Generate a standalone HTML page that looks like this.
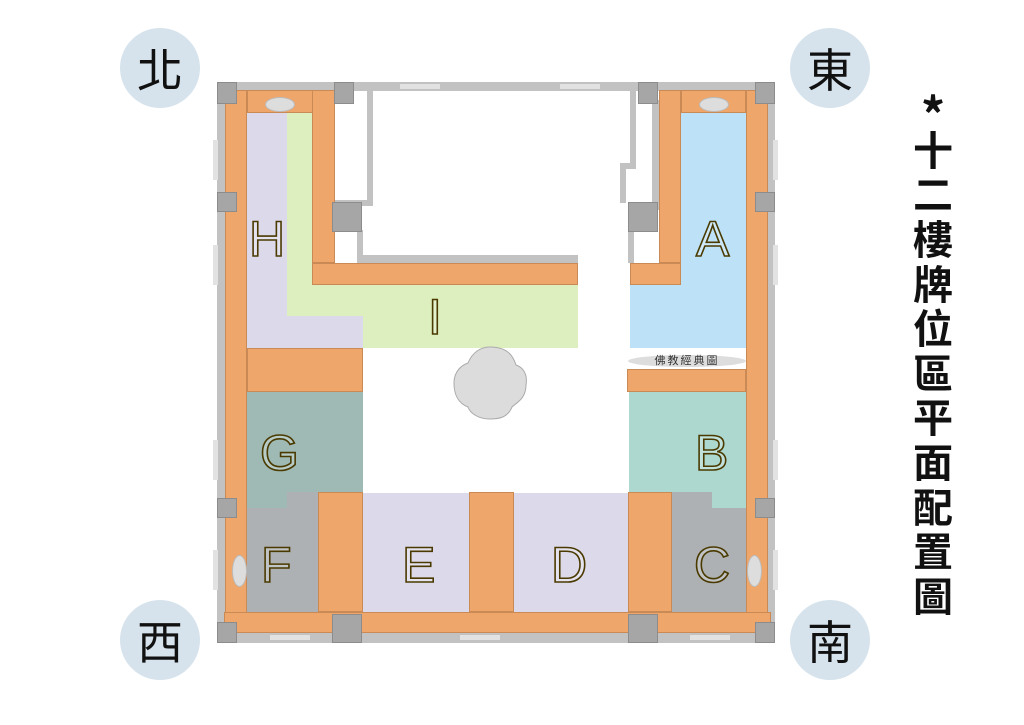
<!DOCTYPE html>
<html><head><meta charset="utf-8"><style>
body{margin:0;width:1024px;height:725px;background:#fff;position:relative;overflow:hidden;font-family:"Liberation Sans","Noto Sans CJK TC",sans-serif}
div{position:absolute;box-sizing:border-box}
.o{background:#eea66a;border:1px solid #c98a55}
.g{background:#c2c2c2}
.sq{background:#a6a6a6;border:1px solid #8c8c8c}
.lt{background:#e2e2e2}
.L{font-size:50px;color:rgba(255,255,255,0.25);-webkit-text-stroke:1.6px #4a3a00;font-family:"Liberation Sans",sans-serif;line-height:1}
.c{width:80px;height:80px;border-radius:50%;background:#d6e3ec;font-size:46px;text-align:center;line-height:80px;color:#111;font-family:"Noto Sans CJK TC",sans-serif}
.v{left:908px;width:50px;text-align:center;font-size:40px;font-weight:bold;line-height:1;font-family:"Noto Sans CJK TC",sans-serif;color:#111}
</style></head><body>
<!-- outer walls -->
<div class="g" style="left:217px;top:82px;width:558px;height:9px"></div>
<div class="g" style="left:217px;top:82px;width:8px;height:561px"></div>
<div class="g" style="left:767px;top:82px;width:8px;height:561px"></div>
<div class="g" style="left:217px;top:632px;width:558px;height:11px"></div>
<div class="lt" style="left:400px;top:84px;width:40px;height:5px"></div>
<div class="lt" style="left:560px;top:84px;width:40px;height:5px"></div>
<div class="lt" style="left:270px;top:635px;width:40px;height:5px"></div>
<div class="lt" style="left:460px;top:635px;width:40px;height:5px"></div>
<div class="lt" style="left:690px;top:635px;width:40px;height:5px"></div>
<div class="lt" style="left:213px;top:140px;width:5px;height:40px"></div>
<div class="lt" style="left:213px;top:245px;width:5px;height:40px"></div>
<div class="lt" style="left:213px;top:440px;width:5px;height:40px"></div>
<div class="lt" style="left:213px;top:550px;width:5px;height:40px"></div>
<div class="lt" style="left:773px;top:140px;width:5px;height:40px"></div>
<div class="lt" style="left:773px;top:245px;width:5px;height:40px"></div>
<div class="lt" style="left:773px;top:440px;width:5px;height:40px"></div>
<div class="lt" style="left:773px;top:550px;width:5px;height:40px"></div>
<!-- inner thin walls -->
<div class="g" style="left:367px;top:88px;width:6px;height:118px"></div>
<div class="g" style="left:335px;top:200px;width:38px;height:6px"></div>
<div class="g" style="left:357px;top:230px;width:6px;height:33px"></div>
<div class="g" style="left:357px;top:255px;width:221px;height:8px"></div>
<div class="g" style="left:630px;top:88px;width:6px;height:80px"></div>
<div class="g" style="left:620px;top:163px;width:16px;height:6px"></div>
<div class="g" style="left:620px;top:163px;width:6px;height:40px"></div>
<div class="g" style="left:628px;top:230px;width:6px;height:33px"></div>
<div class="g" style="left:652px;top:100px;width:7px;height:110px"></div>
<!-- zones -->
<div style="left:287px;top:113px;width:25px;height:235px;background:#ddeebf"></div>
<div style="left:287px;top:285px;width:291px;height:63px;background:#ddeebf"></div>
<div style="left:247px;top:113px;width:40px;height:235px;background:#dcdaea"></div>
<div style="left:247px;top:316px;width:116px;height:32px;background:#dcdaea"></div>
<div style="left:681px;top:113px;width:65px;height:235px;background:#bde1f6"></div>
<div style="left:630px;top:285px;width:51px;height:63px;background:#bde1f6"></div>
<div style="left:247px;top:392px;width:116px;height:116px;background:#9fbab4"></div>
<div style="left:247px;top:508px;width:72px;height:104px;background:#adb1b3"></div>
<div style="left:287px;top:492px;width:32px;height:20px;background:#adb1b3"></div>
<div style="left:629px;top:392px;width:117px;height:116px;background:#acd8d0"></div>
<div style="left:672px;top:492px;width:74px;height:120px;background:#adb1b3"></div>
<div style="left:712px;top:492px;width:34px;height:16px;background:#acd8d0"></div>
<div style="left:363px;top:493px;width:107px;height:119px;background:#dcdaea"></div>
<div style="left:514px;top:493px;width:115px;height:119px;background:#dcdaea"></div>
<!-- orange -->
<div class="o" style="left:225px;top:90px;width:22px;height:542px"></div>
<div class="o" style="left:247px;top:90px;width:66px;height:23px"></div>
<div class="o" style="left:312px;top:90px;width:23px;height:173px"></div>
<div class="o" style="left:312px;top:263px;width:266px;height:22px"></div>
<div class="o" style="left:247px;top:348px;width:116px;height:44px"></div>
<div class="o" style="left:746px;top:90px;width:22px;height:542px"></div>
<div class="o" style="left:681px;top:90px;width:65px;height:23px"></div>
<div class="o" style="left:659px;top:90px;width:22px;height:173px"></div>
<div class="o" style="left:630px;top:263px;width:51px;height:22px"></div>
<div class="o" style="left:627px;top:369px;width:119px;height:23px"></div>
<div class="o" style="left:318px;top:492px;width:45px;height:120px"></div>
<div class="o" style="left:469px;top:492px;width:45px;height:120px"></div>
<div class="o" style="left:628px;top:492px;width:44px;height:120px"></div>
<div class="o" style="left:224px;top:612px;width:547px;height:21px"></div>
<!-- ovals -->
<div style="left:265px;top:97px;width:30px;height:15px;border-radius:50%;background:#ddd;border:1px solid #bbb"></div>
<div style="left:699px;top:97px;width:30px;height:15px;border-radius:50%;background:#ddd;border:1px solid #bbb"></div>
<div style="left:232px;top:555px;width:15px;height:32px;border-radius:50%;background:#ddd;border:1px solid #bbb"></div>
<div style="left:747px;top:555px;width:15px;height:32px;border-radius:50%;background:#ddd;border:1px solid #bbb"></div>
<div style="left:628px;top:355px;width:118px;height:12px;border-radius:50%;background:#ddd"></div>
<div style="left:628px;top:352px;width:118px;height:16px;font-size:11px;line-height:16px;text-align:center;color:#333;letter-spacing:2px;font-family:'Noto Sans CJK TC',sans-serif">佛教經典圖</div>
<!-- squares -->
<div class="sq" style="left:217px;top:82px;width:20px;height:22px"></div>
<div class="sq" style="left:334px;top:82px;width:20px;height:22px"></div>
<div class="sq" style="left:638px;top:82px;width:20px;height:22px"></div>
<div class="sq" style="left:755px;top:82px;width:20px;height:22px"></div>
<div class="sq" style="left:332px;top:202px;width:30px;height:30px"></div>
<div class="sq" style="left:628px;top:202px;width:30px;height:30px"></div>
<div class="sq" style="left:217px;top:192px;width:20px;height:20px"></div>
<div class="sq" style="left:755px;top:192px;width:20px;height:20px"></div>
<div class="sq" style="left:217px;top:498px;width:20px;height:20px"></div>
<div class="sq" style="left:755px;top:498px;width:20px;height:20px"></div>
<div class="sq" style="left:332px;top:614px;width:30px;height:29px"></div>
<div class="sq" style="left:628px;top:614px;width:30px;height:29px"></div>
<div class="sq" style="left:217px;top:622px;width:20px;height:21px"></div>
<div class="sq" style="left:755px;top:622px;width:20px;height:21px"></div>
<!-- center flower -->
<svg style="position:absolute;left:450px;top:343px" width="80" height="80"><path d="M40 4 C60 4 64 16 66 22 C72 24 78 30 76 42 C76 56 66 60 62 64 C58 74 50 76 40 76 C28 76 20 70 18 64 C8 60 4 52 4 40 C4 28 12 22 18 20 C22 10 30 4 40 4Z" fill="#dcdcdc" stroke="#aaa"/></svg>
<!-- letters -->
<div class="L" style="left:249px;top:214px">H</div>
<div class="L" style="left:428px;top:292px">I</div>
<div class="L" style="left:696px;top:214px">A</div>
<div class="L" style="left:695px;top:428px">B</div>
<div class="L" style="left:694px;top:540px">C</div>
<div class="L" style="left:551px;top:540px">D</div>
<div class="L" style="left:402px;top:540px">E</div>
<div class="L" style="left:261px;top:540px">F</div>
<div class="L" style="left:260px;top:428px">G</div>
<!-- compass -->
<div class="c" style="left:120px;top:28px">北</div>
<div class="c" style="left:790px;top:28px">東</div>
<div class="c" style="left:120px;top:600px">西</div>
<div class="c" style="left:790px;top:600px">南</div>
<!-- title -->
<div class="v" style="top:88px;font-size:48px">*</div>
<div class="v" style="top:128px">十</div>
<div class="v" style="top:172px">二</div>
<div class="v" style="top:217px">樓</div>
<div class="v" style="top:262px">牌</div>
<div class="v" style="top:306px">位</div>
<div class="v" style="top:351px">區</div>
<div class="v" style="top:395px">平</div>
<div class="v" style="top:440px">面</div>
<div class="v" style="top:485px">配</div>
<div class="v" style="top:529px">置</div>
<div class="v" style="top:574px">圖</div>
</body></html>
